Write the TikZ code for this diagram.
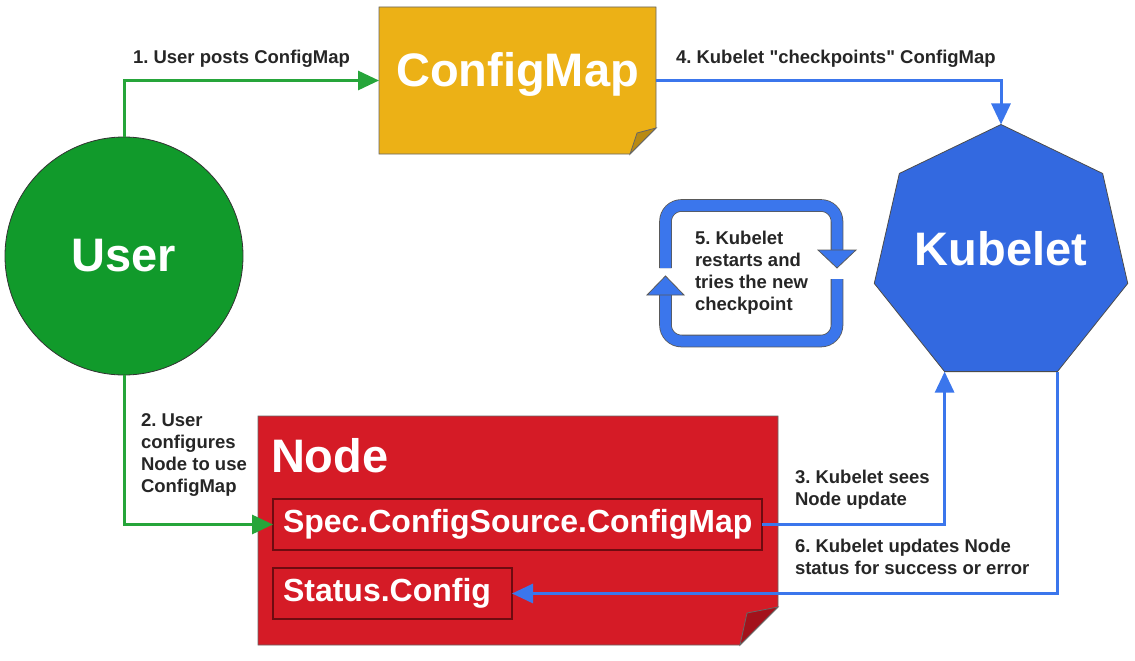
\documentclass[tikz,border=0pt]{standalone}
\usepackage{fontspec}
\setmainfont{Liberation Sans}
\usepackage{xcolor}
\usetikzlibrary{arrows.meta, shapes.geometric, positioning, backgrounds}
\definecolor{usergreen}{HTML}{119A2B}
\definecolor{arrowgreen}{HTML}{26A53A}
\definecolor{mapyellow}{HTML}{ECB116}
\definecolor{mapfold}{HTML}{B98A12}
\definecolor{nodered}{HTML}{D51B26}
\definecolor{nodefold}{HTML}{A3121B}
\definecolor{boxedge}{HTML}{6E0B10}
\definecolor{kubeblue}{HTML}{3369E0}
\definecolor{arrowblue}{HTML}{3B76EC}
\definecolor{labelgray}{HTML}{262626}

\begin{document}
\frenchspacing
\begin{tikzpicture}[
    x=1pt, y=-1pt,
    every node/.style={inner sep=0pt, outer sep=0pt},
    bigtext/.style={text=white, font=\fontsize{47}{50}\selectfont\bfseries},
    fieldbox/.style={rectangle, draw=boxedge, line width=1.2pt, fill=nodered, anchor=north west,
        text=white, font=\fontsize{32}{36}\selectfont\bfseries, inner xsep=10pt,
        text width=#1, align=left, minimum height=51pt, text height=23pt, text depth=7pt},
    steplabel/.style={text=labelgray, font=\fontsize{18.5}{22}\selectfont\bfseries, align=left, anchor=north west},
    greenarrow/.style={draw=arrowgreen, line width=3pt, -{Triangle[length=21pt,width=19pt]}},
    bluearrow/.style={draw=arrowblue, line width=3pt, -{Triangle[length=21pt,width=19pt]}},
    loopband/.style={draw=black!65, line width=0.8pt, double=arrowblue, double distance=11pt, rounded corners=16pt},
    loophead/.style={fill=arrowblue, draw=black!65, line width=0.8pt}
]
\useasboundingbox (0,0) rectangle (1135,661);

\node[circle, fill=usergreen, draw=black!80, line width=0.8pt, minimum size=238pt, bigtext] (user) at (124,256) {User};
\node[rectangle, minimum width=277pt, minimum height=147pt, bigtext, text height=34pt, text depth=22pt] (cmap) at (517.5,80.5) {ConfigMap};
\node[regular polygon, regular polygon sides=7, minimum size=260pt, fill=kubeblue, draw=black!70, line width=0.8pt] (kubelet) at (1001,254.5) {};
\node[bigtext] (kubeletlabel) at (1001,248.5) {Kubelet};
\node[rectangle, minimum width=520pt, minimum height=229pt] (nodeobj) at (518,530.5) {};
\node[bigtext, anchor=west] (nodetitle) at (271,456) {Node};
\node[fieldbox=469pt] (spec) at (273,499) {Spec.ConfigSource.ConfigMap};
\node[fieldbox=219pt] (status) at (273,568) {Status.Config};

\begin{scope}[on background layer]
\filldraw[fill=mapyellow, draw=black!60, line width=0.8pt] (cmap.north west) -- (cmap.north east) -- ([yshift=26pt]cmap.south east)
    -- ([xshift=-26pt]cmap.south east) -- (cmap.south west) -- cycle;
\filldraw[fill=mapfold, draw=black!60, line width=0.8pt] ([yshift=26pt]cmap.south east) -- ([xshift=-19pt,yshift=21pt]cmap.south east)
    -- ([xshift=-26pt]cmap.south east) -- cycle;
\filldraw[fill=nodered, draw=black!60, line width=0.8pt] (nodeobj.north west) -- (nodeobj.north east) -- ([yshift=38pt]nodeobj.south east)
    -- ([xshift=-38pt]nodeobj.south east) -- (nodeobj.south west) -- cycle;
\filldraw[fill=nodefold, draw=black!60, line width=0.8pt] ([yshift=38pt]nodeobj.south east) -- ([xshift=-31pt,yshift=32pt]nodeobj.south east)
    -- ([xshift=-38pt]nodeobj.south east) -- cycle;
\end{scope}

\node[steplabel] (lblpost) at (133,50) {1. User posts ConfigMap};
\node[steplabel] (lblconf) at (141,414) {2. User\\configures\\Node to use\\ConfigMap};
\node[steplabel] (lblsees) at (795,470) {3. Kubelet sees\\Node update};
\node[steplabel] (lblcheck) at (676,50) {4. Kubelet \textquotedbl checkpoints\textquotedbl{} ConfigMap};
\node[steplabel] (lblrestart) at (695,231) {5. Kubelet\\restarts and\\tries the new\\checkpoint};
\node[steplabel] (lblstatus) at (795,539) {6. Kubelet updates Node\\status for success or error};

\draw[greenarrow] (user.north) |- (cmap.west);
\draw[greenarrow] (user.south) |- (spec.west);
\draw[bluearrow] (cmap.east) -| (kubelet.north);
\draw[bluearrow] (spec.east) -| (kubelet.corner 4);
\draw[bluearrow] (kubelet.corner 5) |- (status.east);

% restart loop
\draw[loopband] (665.5,268) -- (665.5,205.5) -- (837,205.5) -- (837,251);
\filldraw[loophead] (818,250) -- (856,250) -- (837,268) -- cycle;
\draw[loopband] (837,279) -- (837,341) -- (665.5,341) -- (665.5,294);
\filldraw[loophead] (647,295) -- (684,295) -- (665.5,276) -- cycle;
\end{tikzpicture}
\end{document}
